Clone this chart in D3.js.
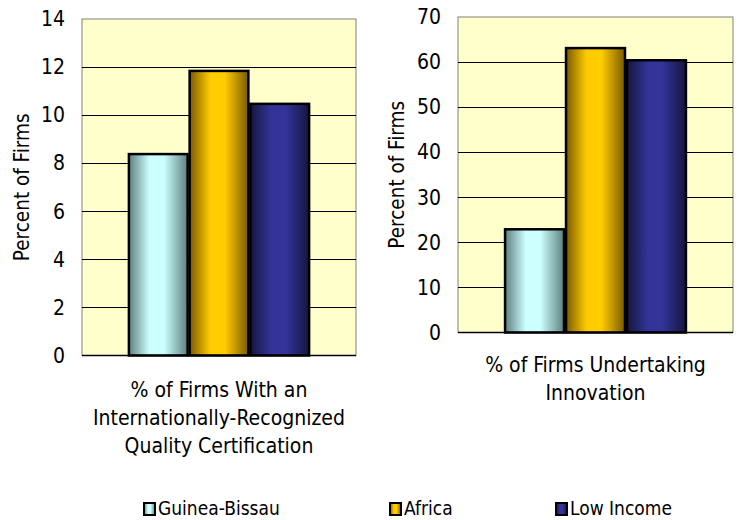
<!DOCTYPE html>
<html><head><meta charset="utf-8">
<script src="https://cdn.jsdelivr.net/npm/d3@7"></script>
<style>body{margin:0;background:#fff}svg{display:block}text{font-family:"DejaVu Sans Condensed","DejaVu Sans",Verdana,sans-serif;fill:#000}</style>
</head><body><svg id="c" width="739" height="520"></svg>
<script>
const series = ["Guinea-Bissau", "Africa", "Low Income"];
const certValues = [8.38, 11.84, 10.47];
const innovValues = [22.9, 63.1, 60.4];
const certTicks = [0, 2, 4, 6, 8, 10, 12, 14];
const innovTicks = [0, 10, 20, 30, 40, 50, 60, 70];
const certLabel = ["% of Firms With an", "Internationally-Recognized", "Quality Certification"];
const innovLabel = ["% of Firms Undertaking", "Innovation"];
const yTitle = "Percent of Firms";

const grads = [
  {edge: "#5f7f7f", mid: "#ccffff"},
  {edge: "#7a5a00", mid: "#ffcc00"},
  {edge: "#16163f", mid: "#333399"}
];
const FONT = '"DejaVu Sans Condensed","DejaVu Sans",sans-serif';

const svg = d3.select("#c");
const defs = svg.append("defs");
grads.forEach((g, i) => {
  const lg = defs.append("linearGradient").attr("id", "g" + i).attr("x1", "0").attr("x2", "1").attr("y1", "0").attr("y2", "0");
  lg.append("stop").attr("offset", "0%").attr("stop-color", g.edge);
  lg.append("stop").attr("offset", "35%").attr("stop-color", g.mid);
  lg.append("stop").attr("offset", "60%").attr("stop-color", g.mid);
  lg.append("stop").attr("offset", "100%").attr("stop-color", g.edge);
});

function panel(opts) {
  const {x0, x1, y0, y1, max, ticks, values, label, labelY, titleX} = opts;
  const y = d3.scaleLinear().domain([0, max]).range([y1, y0]);
  const cx = (x0 + x1) / 2;
  const groupW = (x1 - x0) * 0.665;
  const xb = d3.scaleBand().domain(series).range([cx - groupW / 2, cx + groupW / 2]).paddingInner(0.0);
  const g = svg.append("g");
  g.append("rect").attr("x", x0).attr("y", y0).attr("width", x1 - x0).attr("height", y1 - y0)
    .attr("fill", "#ffffcc").attr("stroke", "#808080").attr("stroke-width", 1);
  g.selectAll("line.grid").data(ticks.filter(t => t > 0 && t < max)).enter().append("line")
    .attr("x1", x0).attr("x2", x1).attr("y1", d => Math.round(y(d)) + 0.5).attr("y2", d => Math.round(y(d)) + 0.5)
    .attr("stroke", "#000").attr("stroke-width", 1);
  const ax = g.append("g").attr("transform", `translate(${x0},0)`)
    .call(d3.axisLeft(y).tickValues(ticks).tickSize(0).tickPadding(17).tickFormat(d3.format("d")));
  ax.select(".domain").remove();
  ax.selectAll("text").style("font-size", "21px").style("font-family", FONT);
  g.selectAll("rect.bar").data(values).enter().append("rect")
    .attr("x", (d, i) => xb(series[i]) + 1).attr("width", xb.bandwidth() - 2)
    .attr("y", d => y(d)).attr("height", d => y1 - y(d))
    .attr("fill", (d, i) => `url(#g${i})`).attr("stroke", "#000").attr("stroke-width", 2.5);
  g.append("line").attr("x1", x0).attr("x2", x1).attr("y1", y1).attr("y2", y1).attr("stroke", "#000").attr("stroke-width", 1.5);
  g.append("text").attr("transform", `translate(${titleX},${(y0 + y1) / 2}) rotate(-90)`)
    .attr("text-anchor", "middle").style("font-size", "20.5px").text(yTitle);
  label.forEach((t, i) => {
    g.append("text").attr("x", cx).attr("y", labelY + i * 28).attr("text-anchor", "middle").style("font-size", "21px").text(t);
  });
}

panel({x0: 82, x1: 356, y0: 19, y1: 355.5, max: 14, ticks: certTicks, values: certValues, label: certLabel, labelY: 397, titleX: 29});
panel({x0: 458, x1: 733, y0: 17, y1: 332.5, max: 70, ticks: innovTicks, values: innovValues, label: innovLabel, labelY: 372, titleX: 404});

const legX = [144, 390, 556];
const lg = svg.append("g");
series.forEach((s, i) => {
  lg.append("rect").attr("x", legX[i]).attr("y", 503).attr("width", 11).attr("height", 12)
    .attr("fill", `url(#g${i})`).attr("stroke", "#000").attr("stroke-width", 2);
  lg.append("text").attr("x", legX[i] + 14).attr("y", 515).style("font-size", "19px").text(s);
});
</script></body></html>
